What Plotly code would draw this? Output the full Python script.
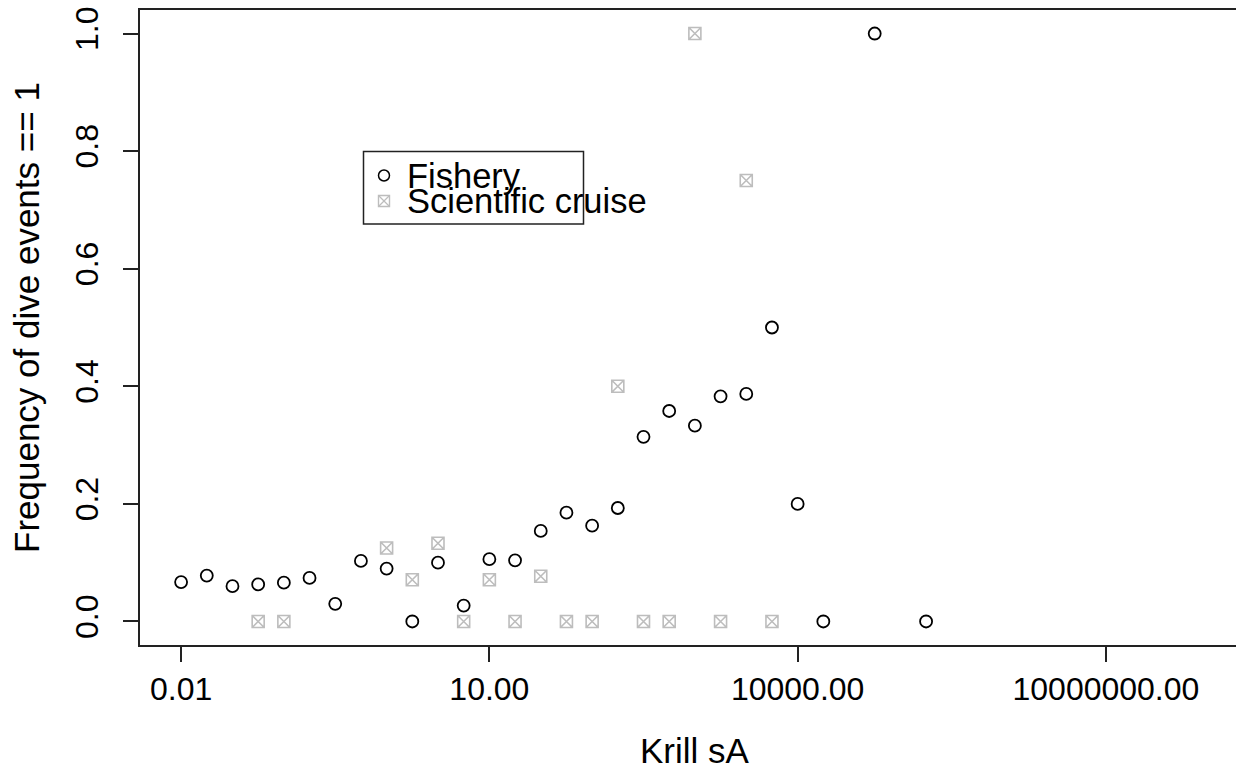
import plotly.graph_objects as go

# ---- data ----
fishery_x = [0.01, 0.01778, 0.03162, 0.05623, 0.1, 0.1778, 0.3162, 0.5623,
             1, 1.778, 3.162, 5.623, 10, 17.78, 31.62, 56.23, 100, 177.8,
             316.2, 562.3, 1000, 1778, 3162, 5623, 10000, 17783, 56234, 177828]
fishery_y = [0.067, 0.078, 0.060, 0.063, 0.066, 0.074, 0.030, 0.103,
             0.090, 0.000, 0.100, 0.027, 0.106, 0.104, 0.154, 0.185, 0.163, 0.193,
             0.314, 0.358, 0.333, 0.383, 0.387, 0.500, 0.200, 0.000, 1.000, 0.000]

science_x = [0.05623, 0.1, 1, 1.778, 3.162, 5.623, 10, 17.78, 31.62, 56.23,
             100, 177.8, 316.2, 562.3, 1000, 1778, 3162, 5623]
science_y = [0.0, 0.0, 0.125, 0.071, 0.133, 0.0, 0.071, 0.0, 0.077, 0.0,
             0.0, 0.400, 0.0, 0.0, 1.000, 0.0, 0.750, 0.0]

x_tickvals = [0.01, 10, 10000, 10000000]
x_ticktext = ["0.01", "10.00", "10000.00", "10000000.00"]
y_tickvals = [0.0, 0.2, 0.4, 0.6, 0.8, 1.0]
y_ticktext = ["0.0", "0.2", "0.4", "0.6", "0.8", "1.0"]

legend_labels = ["Fishery", "Scientific cruise"]
x_title = "Krill sA"
y_title = "Frequency of dive events == 1"

# ---- layout geometry ----
W, H = 1236, 770
ML, MR, MT, MB = 140, 0, 10, 125
PW, PH = W - ML - MR, H - MT - MB
FONT = "Liberation Sans, Arial, Helvetica, sans-serif"
AX = "#222222"
GREY = "#bdbdbd"


def px(xp):
    return (xp - ML) / PW


def py(yp):
    return (H - MB - yp) / PH


fig = go.Figure()
fig.add_trace(go.Scatter(
    x=fishery_x, y=fishery_y, mode="markers", name=legend_labels[0],
    showlegend=False,
    marker=dict(symbol="circle-open", size=12, color="black",
                line=dict(color="black", width=1.8)),
))
fig.add_trace(go.Scatter(
    x=science_x, y=science_y, mode="markers", name=legend_labels[1],
    showlegend=False,
    marker=dict(symbol="square-x-open", size=12, color=GREY,
                line=dict(color=GREY, width=1.6)),
))

# ---- hand-drawn legend (R-style, overlapping rows) ----
shapes = [
    dict(type="rect", xref="paper", yref="paper",
         x0=px(363.5), x1=px(583.5), y0=py(224), y1=py(151.5),
         line=dict(color=AX, width=1.5), fillcolor="rgba(0,0,0,0)"),
    dict(type="circle", xref="paper", yref="paper",
         x0=px(378.5), x1=px(389.5), y0=py(181), y1=py(170),
         line=dict(color="black", width=1.5)),
    dict(type="rect", xref="paper", yref="paper",
         x0=px(378.5), x1=px(389.5), y0=py(206.5), y1=py(195.5),
         line=dict(color=GREY, width=1.4)),
    dict(type="line", xref="paper", yref="paper",
         x0=px(378.5), x1=px(389.5), y0=py(206.5), y1=py(195.5),
         line=dict(color=GREY, width=1.2)),
    dict(type="line", xref="paper", yref="paper",
         x0=px(378.5), x1=px(389.5), y0=py(195.5), y1=py(206.5),
         line=dict(color=GREY, width=1.2)),
]
annotations = [
    dict(text=legend_labels[0], xref="paper", yref="paper",
         x=px(405), y=py(175.5), xanchor="left", yanchor="middle",
         showarrow=False, font=dict(family=FONT, size=34.5, color="black")),
    dict(text=legend_labels[1], xref="paper", yref="paper",
         x=px(405), y=py(201.5), xanchor="left", yanchor="middle",
         showarrow=False, font=dict(family=FONT, size=34.5, color="black")),
    # axis titles (placed like R's mtext)
    dict(text=x_title, xref="paper", yref="paper",
         x=px(695), y=py(750), xanchor="center", yanchor="middle",
         showarrow=False, font=dict(family=FONT, size=35, color="black")),
    dict(text=y_title, xref="paper", yref="paper", textangle=-90,
         x=px(26), y=py(318), xanchor="center", yanchor="middle",
         showarrow=False, font=dict(family=FONT, size=35, color="black")),
]

fig.update_layout(
    width=W, height=H,
    margin=dict(l=ML, r=MR, t=MT, b=MB, pad=0),
    paper_bgcolor="white", plot_bgcolor="white",
    font=dict(family=FONT, size=32, color="black"),
    shapes=shapes, annotations=annotations,
    showlegend=False,
)
fig.update_xaxes(
    type="log", range=[-2.4, 8.266],
    tickmode="array", tickvals=x_tickvals, ticktext=x_ticktext,
    ticks="outside", ticklen=15, tickwidth=1.5, tickcolor=AX,
    tickfont=dict(family=FONT, size=32, color="black"),
    showline=True, linecolor=AX, linewidth=1.5, mirror=True,
    showgrid=False, zeroline=False,
)
fig.update_yaxes(
    range=[-0.04, 1.04],
    tickmode="array", tickvals=y_tickvals, ticktext=y_ticktext,
    tickangle=-90, ticklabelstandoff=12,
    ticks="outside", ticklen=15, tickwidth=1.5, tickcolor=AX,
    tickfont=dict(family=FONT, size=32, color="black"),
    showline=True, linecolor=AX, linewidth=1.5, mirror=False,
    showgrid=False, zeroline=False,
)

fig.write_html("out.html")
